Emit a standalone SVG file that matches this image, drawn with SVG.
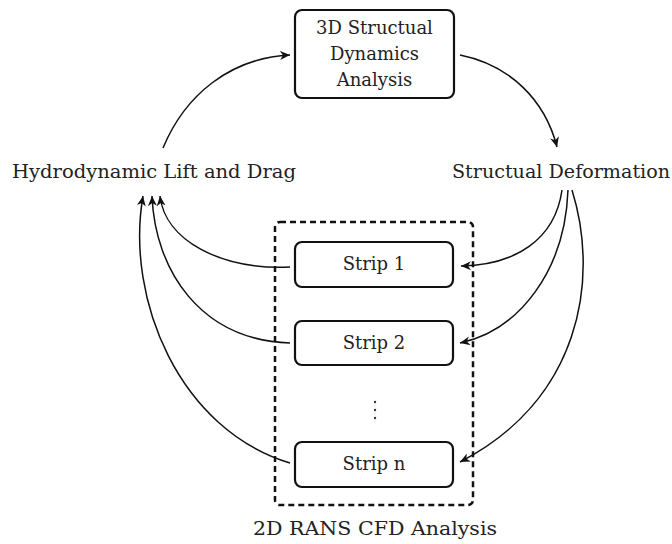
<svg xmlns="http://www.w3.org/2000/svg" width="672" height="544" viewBox="0 0 672 544">
<style>
.t{font-family:"DejaVu Serif","Liberation Serif",serif;fill:#222;font-size:18px;}
.box{fill:#fff;stroke:#111;stroke-width:2.2;}
.conn path{fill:none;stroke:#111;stroke-width:1.5;marker-end:url(#ah);}
</style>
<defs>
<marker id="ah" markerUnits="userSpaceOnUse" markerWidth="12" markerHeight="10" refX="10" refY="4.5" orient="auto">
<path d="M0,0 L10,4.5 L0,9 L3,4.5 z" fill="#111"/>
</marker>
</defs>
<rect width="672" height="544" fill="#fff"/>
<g id="cfd-group">
<rect x="275" y="222" width="198" height="283" rx="5" fill="none" stroke="#111" stroke-width="2.5" stroke-dasharray="6,4"/>
<text x="375" y="535" class="t" text-anchor="middle" textLength="244" lengthAdjust="spacingAndGlyphs">2D RANS CFD Analysis</text>
</g>
<g id="structural">
<rect class="box" x="295" y="10" width="159" height="88" rx="7"/>
<text x="374.5" y="34" class="t" text-anchor="middle">3D Structual</text>
<text x="374.5" y="60" class="t" text-anchor="middle">Dynamics</text>
<text x="374.5" y="86" class="t" text-anchor="middle">Analysis</text>
</g>
<g id="hydro">
<text x="12" y="178" class="t" textLength="284" lengthAdjust="spacingAndGlyphs">Hydrodynamic Lift and Drag</text>
</g>
<g id="deform">
<text x="452" y="178" class="t" textLength="218" lengthAdjust="spacingAndGlyphs">Structual Deformation</text>
</g>
<g id="strip1">
<rect class="box" x="295" y="242" width="158" height="45" rx="7"/>
<text x="374" y="270" class="t" text-anchor="middle">Strip 1</text>
</g>
<g id="strip2">
<rect class="box" x="295" y="321" width="158" height="44" rx="7"/>
<text x="374" y="349" class="t" text-anchor="middle">Strip 2</text>
</g>
<g id="dots">
<circle cx="375" cy="402" r="1.2" fill="#333"/>
<circle cx="375" cy="410" r="1.2" fill="#333"/>
<circle cx="375" cy="418" r="1.2" fill="#333"/>
</g>
<g id="stripn">
<rect class="box" x="295" y="442" width="158" height="45" rx="7"/>
<text x="374" y="470" class="t" text-anchor="middle">Strip n</text>
</g>
<g class="conn" id="connectors">
<path d="M163,148 C185,95 230,58 290,55"/>
<path d="M460,55 C510,65 545,100 557,147"/>
<path d="M562,190 C555,240 515,265 461,266"/>
<path d="M568,190 C565,270 520,330 460,343"/>
<path d="M572,190 C600,280 580,400 460,462"/>
<path d="M290,267 C220,270 165,240 160,196"/>
<path d="M290,343 C200,340 155,270 152,196"/>
<path d="M290,463 C180,430 125,300 143,196"/>
</g>
</svg>
